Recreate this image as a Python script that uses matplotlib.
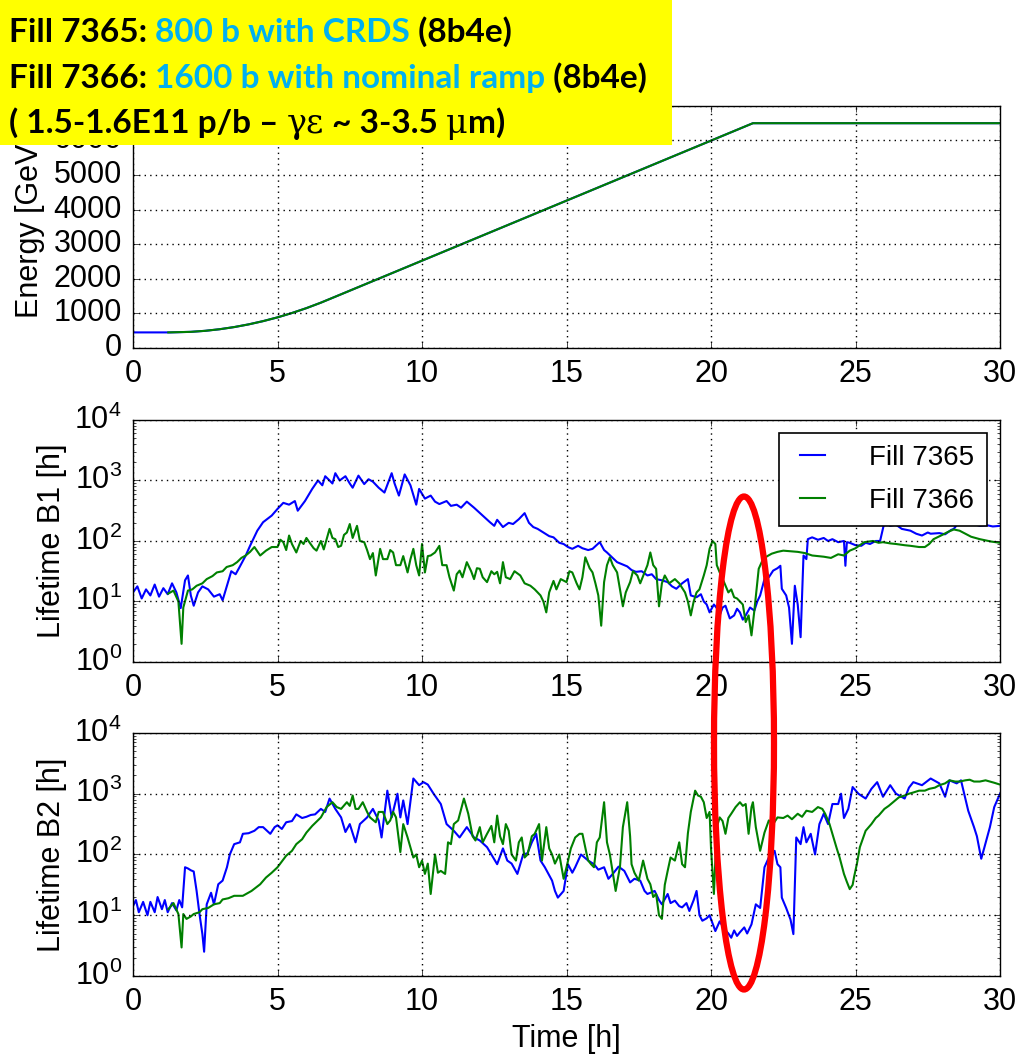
import numpy as np
import matplotlib
matplotlib.use("Agg")
import matplotlib.pyplot as plt
from matplotlib.patches import Rectangle, Ellipse

# ---- data (time [h], energy [GeV] / log10 lifetime [h]) ----
energy_t = [0.0, 1.3, 2.0, 2.5, 3.0, 3.5, 4.0, 4.5, 5.0, 5.5, 6.0, 6.5, 7.0, 21.45, 30.0]
energy_gev = [450, 450, 466, 496, 542, 604, 682, 776, 885, 1011, 1152, 1310, 1483, 6500, 6500]
energy_start_7366 = 1.22

b1_7365 = np.array([
    [0.0, 1.15], [0.15, 1.25], [0.3, 1.05], [0.45, 1.2], [0.6, 1.1], [0.75, 1.28], [0.9, 1.08],
    [1.05, 1.22], [1.2, 1.12], [1.35, 1.3], [1.5, 1.15], [1.65, 0.89], [1.8, 1.35], [1.9, 1.43],
    [2.0, 1.1], [2.1, 0.93], [2.25, 1.15], [2.4, 1.25], [2.6, 1.2], [2.8, 1.08], [3.0, 1.12],
    [3.1, 1.02], [3.25, 1.26], [3.4, 1.5], [3.55, 1.45], [3.7, 1.58], [3.9, 1.76], [4.05, 1.92],
    [4.3, 2.17], [4.5, 2.31], [4.8, 2.42], [5.0, 2.53], [5.2, 2.63], [5.4, 2.6], [5.6, 2.66],
    [5.7, 2.5], [5.95, 2.66], [6.2, 2.86], [6.4, 3.0], [6.55, 2.92], [6.65, 3.07], [6.8, 3.0],
    [6.9, 2.95], [7.0, 3.12], [7.15, 3.0], [7.35, 3.07], [7.5, 2.95], [7.6, 2.88], [7.8, 3.08],
    [8.0, 2.94], [8.15, 3.02], [8.3, 2.98], [8.5, 2.88], [8.7, 2.8], [8.95, 3.12], [9.05, 2.95],
    [9.2, 2.75], [9.4, 3.1], [9.6, 2.92], [9.8, 2.6], [9.9, 2.86], [10.1, 2.7], [10.3, 2.75],
    [10.45, 2.65], [10.6, 2.61], [10.85, 2.66], [11.0, 2.58], [11.2, 2.6], [11.35, 2.55],
    [11.55, 2.65], [11.8, 2.55], [12.1, 2.42], [12.35, 2.31], [12.5, 2.25], [12.6, 2.35],
    [12.8, 2.23], [13.0, 2.3], [13.15, 2.28], [13.35, 2.36], [13.55, 2.46], [13.7, 2.3],
    [13.85, 2.23], [14.0, 2.2], [14.2, 2.14], [14.4, 2.08], [14.55, 2.06], [14.75, 1.97],
    [14.9, 1.95], [15.05, 1.9], [15.2, 1.87], [15.4, 1.92], [15.55, 1.88], [15.75, 1.85],
    [15.9, 1.87], [16.15, 1.98], [16.3, 1.85], [16.4, 1.81], [16.6, 1.72], [16.75, 1.65],
    [16.9, 1.62], [17.1, 1.58], [17.25, 1.52], [17.4, 1.49], [17.6, 1.5], [17.8, 1.43],
    [17.95, 1.45], [18.1, 1.37], [18.3, 1.35], [18.5, 1.32], [18.65, 1.25], [18.8, 1.21],
    [19.0, 1.3], [19.2, 1.37], [19.3, 1.1], [19.5, 1.07], [19.65, 1.12], [19.75, 1.0],
    [19.85, 0.95], [19.95, 0.82], [20.1, 0.95], [20.2, 0.89], [20.3, 0.77], [20.4, 0.9],
    [20.5, 0.93], [20.65, 0.72], [20.8, 0.77], [20.9, 0.88], [21.0, 0.82], [21.1, 0.7],
    [21.2, 0.77], [21.35, 0.9], [21.5, 0.85], [21.6, 1.0], [21.7, 1.1], [21.9, 1.46],
    [22.0, 1.4], [22.15, 1.51], [22.3, 1.55], [22.4, 1.59], [22.45, 1.21], [22.6, 1.1],
    [22.7, 0.9], [22.8, 0.3], [22.9, 1.26], [23.0, 0.95], [23.1, 0.41], [23.2, 1.76],
    [23.3, 1.7], [23.35, 2.03], [23.5, 2.06], [23.7, 2.02], [23.9, 2.05], [24.05, 2.0],
    [24.2, 2.03], [24.4, 1.98], [24.6, 2.0], [24.65, 1.59], [24.7, 1.98], [24.8, 1.97],
    [25.0, 1.93], [25.2, 1.92], [25.35, 1.97], [25.5, 1.95], [25.7, 2.0], [25.85, 2.0],
    [26.0, 2.31], [26.2, 2.25], [26.4, 2.27], [26.6, 2.2], [26.9, 2.17], [27.1, 2.12],
    [27.3, 2.09], [27.5, 2.14], [27.6, 2.12], [27.9, 2.13], [28.1, 2.11], [28.3, 2.18],
    [28.4, 2.2], [28.6, 2.32], [28.8, 2.28], [29.1, 2.28], [29.3, 2.25], [29.55, 2.26],
    [29.75, 2.24], [30.0, 2.25]])

b1_7366 = np.array([
    [1.22, 1.13], [1.4, 1.18], [1.57, 1.0], [1.68, 0.3], [1.74, 0.9], [1.9, 1.18], [2.05, 1.2],
    [2.2, 1.26], [2.4, 1.3], [2.55, 1.37], [2.75, 1.42], [2.9, 1.48], [3.1, 1.5], [3.24, 1.57],
    [3.45, 1.6], [3.6, 1.65], [3.75, 1.72], [3.9, 1.76], [4.05, 1.82], [4.2, 1.9], [4.4, 1.76],
    [4.6, 1.84], [4.8, 1.9], [5.0, 1.9], [5.1, 2.02], [5.2, 1.98], [5.3, 1.85], [5.4, 2.09],
    [5.5, 1.95], [5.65, 1.81], [5.8, 2.0], [5.9, 1.95], [6.0, 2.05], [6.1, 1.98], [6.25, 1.88],
    [6.35, 1.84], [6.5, 2.0], [6.6, 1.86], [6.8, 2.2], [6.9, 2.05], [7.0, 2.03], [7.1, 1.9],
    [7.2, 1.92], [7.3, 2.1], [7.4, 2.14], [7.5, 2.28], [7.6, 2.05], [7.75, 2.25], [7.85, 2.0],
    [8.0, 1.98], [8.1, 1.85], [8.2, 1.7], [8.3, 1.8], [8.4, 1.43], [8.55, 1.87], [8.65, 1.7],
    [8.8, 1.7], [8.9, 1.85], [9.0, 1.81], [9.1, 1.6], [9.25, 1.6], [9.35, 1.75], [9.5, 1.48],
    [9.6, 1.7], [9.7, 1.87], [9.8, 1.6], [9.9, 1.43], [10.0, 1.95], [10.1, 1.48], [10.2, 1.75],
    [10.3, 1.76], [10.45, 1.81], [10.6, 1.92], [10.7, 1.6], [10.85, 1.6], [10.95, 1.4],
    [11.1, 1.18], [11.2, 1.45], [11.3, 1.51], [11.4, 1.4], [11.55, 1.65], [11.7, 1.5],
    [11.8, 1.37], [11.9, 1.55], [12.0, 1.54], [12.1, 1.4], [12.25, 1.32], [12.4, 1.5],
    [12.5, 1.45], [12.6, 1.49], [12.7, 1.3], [12.8, 1.65], [12.9, 1.4], [13.05, 1.37],
    [13.2, 1.5], [13.4, 1.43], [13.55, 1.3], [13.75, 1.26], [13.9, 1.2], [14.1, 1.1],
    [14.2, 1.0], [14.3, 0.82], [14.4, 1.15], [14.55, 1.34], [14.65, 1.2], [14.8, 1.37],
    [15.0, 1.32], [15.1, 1.5], [15.2, 1.48], [15.35, 1.3], [15.45, 1.2], [15.55, 1.4],
    [15.65, 1.73], [15.8, 1.55], [15.9, 1.48], [16.0, 1.3], [16.1, 1.1], [16.2, 0.6],
    [16.3, 1.32], [16.4, 1.6], [16.5, 1.73], [16.6, 1.6], [16.75, 1.48], [16.85, 1.2],
    [16.95, 0.92], [17.05, 1.15], [17.2, 1.32], [17.3, 1.5], [17.45, 1.43], [17.55, 1.3],
    [17.7, 1.48], [17.8, 1.6], [17.9, 1.81], [18.0, 1.6], [18.1, 1.54], [18.2, 0.92],
    [18.3, 1.3], [18.4, 1.43], [18.55, 1.3], [18.75, 1.37], [18.9, 1.3], [19.1, 1.15],
    [19.2, 1.0], [19.3, 0.77], [19.4, 1.0], [19.5, 1.15], [19.6, 1.2], [19.75, 1.43],
    [19.85, 1.6], [19.95, 1.87], [20.05, 2.0], [20.15, 1.95], [20.2, 1.6], [20.3, 1.48],
    [20.45, 1.32], [20.6, 1.15], [20.7, 1.2], [20.8, 1.07], [20.9, 1.05], [21.0, 1.0],
    [21.1, 0.95], [21.2, 0.66], [21.3, 0.77], [21.4, 0.44], [21.5, 0.85], [21.6, 1.3],
    [21.65, 1.54], [21.8, 1.7], [21.95, 1.75], [22.1, 1.79], [22.3, 1.82], [22.5, 1.84],
    [22.75, 1.83], [23.0, 1.82], [23.25, 1.8], [23.5, 1.76], [23.7, 1.75], [23.9, 1.74],
    [24.15, 1.72], [24.4, 1.78], [24.6, 1.76], [24.8, 1.84], [25.0, 1.88], [25.3, 1.98],
    [25.6, 2.0], [25.8, 1.97], [25.95, 1.98], [26.2, 1.96], [26.4, 1.95], [26.7, 1.93],
    [26.9, 1.92], [27.2, 1.9], [27.4, 1.9], [27.55, 1.95], [27.7, 2.03], [28.0, 2.1],
    [28.2, 2.15], [28.4, 2.19], [28.6, 2.17], [28.8, 2.12], [29.0, 2.07], [29.3, 2.03],
    [29.5, 2.01], [29.7, 1.99], [30.0, 1.97]])

b2_7365 = np.array([
    [0.0, 1.15], [0.1, 1.25], [0.2, 1.05], [0.35, 1.22], [0.5, 1.0], [0.6, 1.22], [0.75, 1.05],
    [0.85, 1.3], [1.0, 1.1], [1.1, 1.25], [1.2, 1.05], [1.35, 1.2], [1.5, 1.08], [1.6, 1.25],
    [1.7, 1.13], [1.8, 1.79], [1.9, 1.77], [2.0, 1.74], [2.1, 1.72], [2.2, 1.4], [2.3, 1.02],
    [2.4, 0.69], [2.46, 0.4], [2.55, 1.18], [2.7, 1.37], [2.8, 1.18], [2.95, 1.51], [3.1, 1.57],
    [3.25, 1.79], [3.35, 2.0], [3.5, 2.17], [3.7, 2.2], [3.8, 2.34], [4.0, 2.35], [4.2, 2.39],
    [4.35, 2.45], [4.5, 2.45], [4.75, 2.34], [4.9, 2.45], [5.0, 2.48], [5.15, 2.42], [5.3, 2.53],
    [5.5, 2.55], [5.65, 2.66], [5.85, 2.6], [6.0, 2.62], [6.15, 2.65], [6.3, 2.66], [6.5, 2.75],
    [6.65, 2.7], [6.8, 2.92], [7.0, 2.75], [7.2, 2.61], [7.35, 2.37], [7.5, 2.5], [7.7, 2.2],
    [7.85, 2.5], [8.1, 2.61], [8.3, 2.75], [8.5, 2.56], [8.6, 2.28], [8.8, 3.05], [8.95, 2.61],
    [9.15, 3.0], [9.25, 2.61], [9.35, 2.89], [9.5, 2.5], [9.7, 3.25], [9.9, 3.14], [10.05, 3.19],
    [10.2, 3.15], [10.4, 3.0], [10.65, 2.83], [10.85, 2.5], [11.1, 2.39], [11.3, 2.28],
    [11.55, 2.45], [11.8, 2.28], [12.0, 2.23], [12.25, 2.12], [12.4, 2.0], [12.6, 1.84],
    [12.8, 2.1], [12.95, 1.9], [13.1, 1.85], [13.3, 1.68], [13.5, 2.0], [13.65, 2.02],
    [13.8, 2.2], [13.95, 2.34], [14.1, 1.9], [14.25, 1.79], [14.5, 1.57], [14.6, 1.4],
    [14.7, 1.29], [14.9, 1.4], [15.05, 1.84], [15.2, 1.7], [15.3, 1.79], [15.5, 2.0],
    [15.75, 1.9], [15.95, 1.84], [16.1, 1.75], [16.3, 1.79], [16.45, 1.6], [16.6, 1.68],
    [16.8, 1.8], [17.0, 1.73], [17.2, 1.54], [17.35, 1.6], [17.55, 1.57], [17.7, 1.4],
    [17.8, 1.35], [18.05, 1.4], [18.2, 1.25], [18.3, 1.18], [18.5, 1.35], [18.6, 1.2],
    [18.75, 1.24], [18.9, 1.15], [19.0, 1.13], [19.15, 1.2], [19.25, 1.07], [19.4, 1.25],
    [19.5, 1.4], [19.6, 1.0], [19.7, 0.91], [19.85, 0.95], [19.95, 1.0], [20.15, 0.74],
    [20.3, 0.9], [20.45, 0.78], [20.6, 0.7], [20.7, 0.63], [20.8, 0.75], [20.9, 0.66],
    [21.0, 0.72], [21.15, 0.8], [21.25, 0.7], [21.4, 0.85], [21.55, 1.18], [21.7, 1.12],
    [21.85, 1.79], [22.0, 1.95], [22.2, 2.06], [22.3, 1.84], [22.4, 1.79], [22.45, 1.29],
    [22.6, 1.12], [22.75, 0.93], [22.85, 0.69], [22.95, 2.28], [23.1, 2.17], [23.2, 2.45],
    [23.3, 2.2], [23.45, 2.34], [23.6, 2.0], [23.75, 2.5], [23.9, 2.67], [24.05, 2.5],
    [24.2, 2.83], [24.4, 2.83], [24.5, 3.0], [24.6, 2.6], [24.75, 2.75], [24.9, 3.11],
    [25.1, 3.0], [25.35, 2.92], [25.55, 3.08], [25.75, 3.19], [25.95, 2.95], [26.2, 3.14],
    [26.4, 3.0], [26.7, 2.92], [26.85, 3.1], [27.0, 3.19], [27.3, 3.14], [27.6, 3.25],
    [27.9, 3.17], [28.1, 2.95], [28.25, 3.22], [28.5, 3.17], [28.65, 3.22], [28.9, 2.72],
    [29.1, 2.45], [29.2, 2.3], [29.35, 1.93], [29.45, 2.1], [29.65, 2.45], [29.8, 2.78],
    [30.0, 3.0]])

b2_7366 = np.array([
    [1.22, 1.1], [1.4, 1.2], [1.57, 1.02], [1.68, 0.47], [1.74, 1.02], [1.85, 0.94], [2.0, 0.98],
    [2.1, 1.02], [2.3, 1.05], [2.4, 1.1], [2.6, 1.12], [2.8, 1.18], [3.0, 1.2], [3.1, 1.26],
    [3.3, 1.28], [3.5, 1.32], [3.8, 1.32], [4.1, 1.4], [4.4, 1.51], [4.6, 1.62], [4.8, 1.7],
    [5.0, 1.79], [5.3, 1.98], [5.5, 2.06], [5.65, 2.17], [5.85, 2.25], [6.0, 2.36], [6.2, 2.47],
    [6.5, 2.61], [6.7, 2.78], [6.9, 2.86], [7.05, 2.78], [7.2, 2.75], [7.4, 2.86], [7.5, 2.8],
    [7.6, 2.97], [7.7, 2.75], [7.8, 2.75], [7.95, 2.86], [8.1, 2.7], [8.2, 2.61], [8.4, 2.53],
    [8.5, 2.7], [8.65, 2.7], [8.8, 2.5], [8.9, 2.56], [9.0, 2.7], [9.1, 2.61], [9.25, 2.04],
    [9.35, 2.5], [9.5, 2.28], [9.7, 1.95], [9.8, 2.0], [9.9, 1.79], [10.0, 1.9], [10.1, 1.68],
    [10.2, 1.85], [10.3, 1.35], [10.45, 2.0], [10.55, 1.7], [10.65, 1.73], [10.8, 1.68],
    [10.9, 2.2], [11.0, 2.17], [11.1, 2.5], [11.25, 2.56], [11.45, 2.92], [11.6, 2.67],
    [11.75, 2.3], [11.85, 2.23], [12.0, 2.45], [12.1, 2.2], [12.25, 2.34], [12.4, 2.47],
    [12.5, 2.2], [12.6, 2.64], [12.7, 2.3], [12.8, 2.17], [12.9, 2.5], [13.0, 2.39],
    [13.1, 2.0], [13.25, 1.9], [13.35, 2.2], [13.45, 2.28], [13.55, 1.95], [13.65, 2.0],
    [13.8, 2.3], [13.9, 2.34], [14.05, 2.5], [14.15, 1.9], [14.3, 2.45], [14.4, 2.1],
    [14.5, 2.0], [14.6, 1.85], [14.75, 2.0], [14.9, 1.6], [15.0, 1.79], [15.15, 2.1],
    [15.3, 2.28], [15.45, 2.34], [15.55, 2.34], [15.7, 2.0], [15.75, 1.9], [15.85, 1.84],
    [15.95, 1.79], [16.05, 2.2], [16.15, 2.28], [16.3, 2.86], [16.4, 2.2], [16.5, 2.0],
    [16.6, 1.7], [16.7, 1.4], [16.85, 1.8], [16.95, 2.45], [17.1, 2.86], [17.2, 2.3],
    [17.25, 1.84], [17.35, 1.7], [17.5, 1.57], [17.65, 1.9], [17.8, 1.6], [17.9, 1.51],
    [18.0, 1.3], [18.1, 1.35], [18.2, 1.0], [18.3, 0.94], [18.4, 1.5], [18.5, 1.73],
    [18.6, 1.95], [18.75, 1.9], [18.9, 2.2], [19.0, 1.84], [19.1, 1.79], [19.2, 2.35],
    [19.3, 2.7], [19.45, 3.05], [19.55, 2.97], [19.65, 2.95], [19.75, 2.86], [19.85, 2.6],
    [19.95, 2.7], [20.0, 2.1], [20.1, 1.35], [20.2, 2.45], [20.3, 2.61], [20.4, 2.55],
    [20.5, 2.34], [20.6, 2.6], [20.7, 2.67], [20.85, 2.78], [21.0, 2.86], [21.1, 2.8],
    [21.2, 2.83], [21.3, 2.34], [21.4, 2.78], [21.45, 2.86], [21.55, 2.45], [21.7, 2.06],
    [21.85, 2.36], [22.0, 2.56], [22.15, 2.5], [22.3, 2.61], [22.5, 2.6], [22.65, 2.64],
    [22.8, 2.58], [23.0, 2.67], [23.15, 2.62], [23.3, 2.72], [23.5, 2.7], [23.7, 2.78],
    [23.85, 2.75], [23.95, 2.67], [24.1, 2.5], [24.2, 2.34], [24.35, 2.1], [24.45, 1.95],
    [24.6, 1.68], [24.7, 1.55], [24.8, 1.43], [24.9, 1.5], [24.95, 1.63], [25.05, 1.85],
    [25.15, 2.12], [25.35, 2.39], [25.55, 2.5], [25.7, 2.6], [25.8, 2.64], [26.0, 2.75],
    [26.15, 2.8], [26.3, 2.86], [26.5, 2.94], [26.7, 2.97], [26.85, 3.0], [27.0, 3.02],
    [27.2, 3.05], [27.4, 3.05], [27.55, 3.08], [27.75, 3.1], [27.9, 3.14], [28.1, 3.17],
    [28.25, 3.22], [28.45, 3.2], [28.6, 3.2], [28.8, 3.22], [28.95, 3.23], [29.1, 3.2],
    [29.3, 3.2], [29.5, 3.22], [29.65, 3.2], [29.8, 3.18], [30.0, 3.15]])

fill_labels = ["Fill 7365", "Fill 7366"]
xticks = [0, 5, 10, 15, 20, 25, 30]

# ---- style: old-matplotlib look ----
plt.style.use("classic")
plt.rcParams["font.family"] = ["Liberation Sans", "DejaVu Sans"]
plt.rcParams["mathtext.fontset"] = "custom"
plt.rcParams["mathtext.rm"] = "Liberation Sans"
plt.rcParams["mathtext.default"] = "regular"
plt.rcParams["font.size"] = 22
plt.rcParams["axes.linewidth"] = 1.0

fig = plt.figure(figsize=(10.17, 10.57), dpi=100, facecolor="white")

left, width = 0.1308, 0.8525
ax_e = fig.add_axes([left, 0.6708, width, 0.229])
ax_b1 = fig.add_axes([left, 0.3737, width, 0.229])
ax_b2 = fig.add_axes([left, 0.0766, width, 0.230])

lw = 1.5
# energy: blue underneath, green on top
ax_e.plot(energy_t, energy_gev, "b-", lw=lw)
e7366_t = np.r_[energy_start_7366, energy_t[2:]]
ax_e.plot(e7366_t, np.interp(e7366_t, energy_t, energy_gev), "g-", lw=lw)
ax_e.set_ylim(0, 7000)
ax_e.set_yticks(range(0, 8000, 1000))
ax_e.set_ylabel("Energy [GeV]")

for ax, d1, d2, lab in [(ax_b1, b1_7365, b1_7366, "Lifetime B1 [h]"),
                        (ax_b2, b2_7365, b2_7366, "Lifetime B2 [h]")]:
    ax.plot(d1[:, 0], 10 ** d1[:, 1], "b-", lw=lw, label=fill_labels[0])
    ax.plot(d2[:, 0], 10 ** d2[:, 1], "g-", lw=lw, label=fill_labels[1])
    ax.set_yscale("log")
    ax.set_ylim(1, 1e4)
    ax.set_ylabel(lab)

ax_b2.set_xlabel("Time [h]")

for ax in (ax_e, ax_b1, ax_b2):
    ax.set_xlim(0, 30)
    ax.set_xticks(xticks)
    ax.grid(True, linestyle=":", color="k", lw=1.0)
    ax.tick_params(which="both", direction="in", top=True, right=True)
    ax.tick_params(axis="both", which="major", labelsize=22, pad=8)

# y labels sit closer for the log panels (narrower tick labels)
ax_e.yaxis.set_label_coords(-0.102, 0.5)
ax_b1.yaxis.set_label_coords(-0.076, 0.5)
ax_b2.yaxis.set_label_coords(-0.076, 0.5)

leg = ax_b1.legend(loc="upper right", fontsize=20, handlelength=1.5, handletextpad=1.3,
                   borderpad=0.45, labelspacing=0.6, borderaxespad=0,
                   bbox_to_anchor=(0.985, 0.948))
leg.get_frame().set_linewidth(1.2)

# ---- red ellipse annotation ----
ell = Ellipse((744 / 1017, 1 - 743 / 1057), 60 / 1017, 493 / 1057, transform=fig.transFigure,
              fill=False, edgecolor="#ff0000", lw=4.5, zorder=20)
fig.add_artist(ell)

# ---- yellow header box ----
box = Rectangle((0, 1 - 145 / 1057), 672 / 1017, 145 / 1057, transform=fig.transFigure,
                facecolor="#ffff00", edgecolor="none", zorder=10)
fig.add_artist(box)

black = "black"
cyan = "#00b0f0"
lines = [
    [("Fill 7365: ", black), ("800 b with CRDS", cyan), (" (8b4e)", black)],
    [("Fill 7366: ", black), ("1600 b with nominal ramp", cyan), (" (8b4e)", black)],
    [("( 1.5-1.6E11 p/b \u2013 ", black), ("\u03b3\u03b5", black), (" ~ 3-3.5 ", black),
     ("\u03bc", black), ("m)", black)],
]
baselines = [42, 88, 133]
fig.canvas.draw()
renderer = fig.canvas.get_renderer()
for segs, base in zip(lines, baselines):
    x = 9 / 1017
    for s, c in segs:
        greek = s in ("\u03b3\u03b5", "\u03bc")
        t = fig.text(x, 1 - base / 1057, s, color=c, fontsize=24,
                     fontweight="normal" if greek else "bold",
                     family=["DejaVu Serif"] if greek else ["Lato", "DejaVu Sans"],
                     va="baseline", ha="left", zorder=11)
        bb = t.get_window_extent(renderer)
        x = bb.x1 / fig.bbox.width

fig.savefig("out.png", dpi=100, facecolor="white")
